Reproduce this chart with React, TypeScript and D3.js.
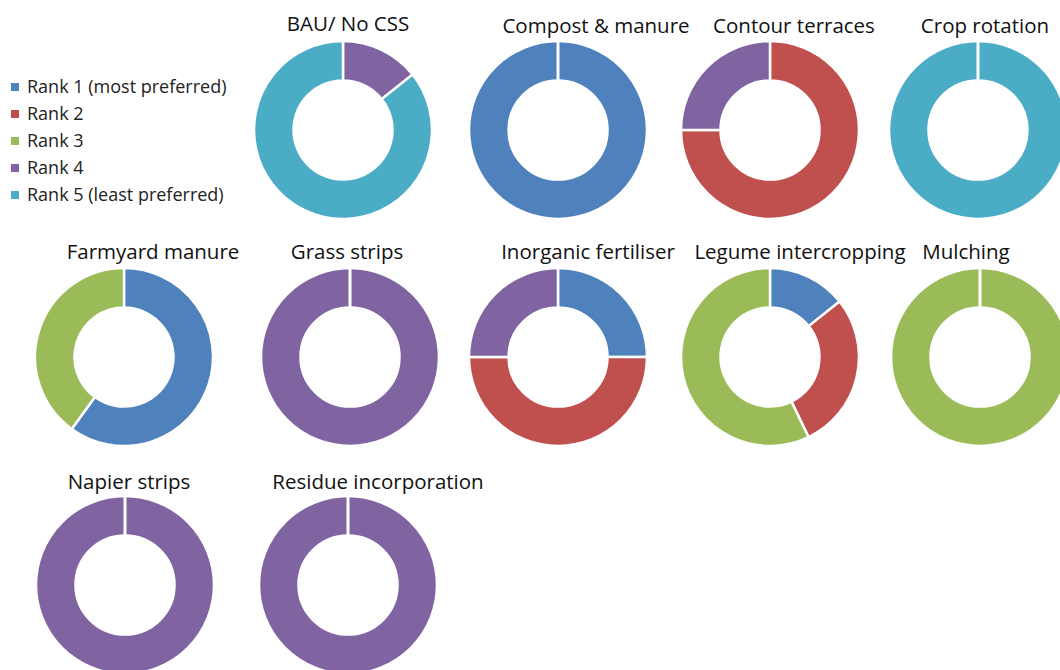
import { arc, pie, scaleOrdinal } from 'd3';

// rank categories and their Excel-style colours
const ranks = ['Rank 1 (most preferred)', 'Rank 2', 'Rank 3', 'Rank 4', 'Rank 5 (least preferred)'];
const rankColors = ['#4F81BD', '#C0504D', '#9BBB59', '#8064A2', '#4BACC6'];

const practices = [
  'BAU/ No CSS',
  'Compost & manure',
  'Contour terraces',
  'Crop rotation',
  'Farmyard manure',
  'Grass strips',
  'Inorganic fertiliser',
  'Legume intercropping',
  'Mulching',
  'Napier strips',
  'Residue incorporation',
];

// number of responses per rank, one entry per practice
const rank1 = [0, 1, 0, 0, 3, 0, 1, 1, 0, 0, 0];
const rank2 = [0, 0, 3, 0, 0, 0, 2, 2, 0, 0, 0];
const rank3 = [0, 0, 0, 0, 2, 0, 0, 4, 1, 0, 0];
const rank4 = [1, 0, 1, 0, 0, 1, 1, 0, 0, 1, 1];
const rank5 = [6, 0, 0, 1, 0, 0, 0, 0, 0, 0, 0];

// layout of the small multiples (donut centre and title centre)
const donutX = [343, 558, 770, 978, 124, 350, 558, 770, 980, 125, 348];
const donutY = [130, 130, 130, 130, 357, 357, 357, 357, 357, 585, 585];
const titleX = [348, 596, 794, 985, 153, 347, 588, 800, 966, 129, 378];
const titleY = [31, 33, 33, 33, 259, 259, 259, 259, 259, 489, 489];

const outerR = 89;
const innerR = 49.5;

interface Slice {
  rank: number;
  value: number;
}

export default function App() {
  const color = scaleOrdinal<number, string>().domain([0, 1, 2, 3, 4]).range(rankColors);
  const pieGen = pie<Slice>().sort(null).value((d) => d.value);
  const arcGen = arc<any>().innerRadius(innerR).outerRadius(outerR);
  const series = [rank1, rank2, rank3, rank4, rank5];

  return (
    <div style={{ position: 'absolute', left: 0, top: 0 }}>
      <svg width={1060} height={670} style={{ display: 'block', background: '#fff' }} fontFamily="'Open Sans', 'Noto Sans', sans-serif">
        <g>
          {ranks.map((r, i) => (
            <g key={r} transform={`translate(11, ${87 + i * 27})`}>
              <rect x={0} y={-4} width={8} height={8} fill={color(i)} />
              <text x={16} y={0} dy="0.35em" fontSize={18} fill="#222">
                {r}
              </text>
            </g>
          ))}
        </g>
        {practices.map((name, p) => {
          const slices: Slice[] = series.map((s, rank) => ({ rank, value: s[p] })).filter((d) => d.value > 0);
          const arcs = pieGen(slices);
          return (
            <g key={name}>
              <text x={titleX[p]} y={titleY[p]} textAnchor="middle" fontSize={20.5} fill="#111">
                {name}
              </text>
              <g transform={`translate(${donutX[p]}, ${donutY[p]})`}>
                {arcs.map((a) => (
                  <path key={a.data.rank} d={arcGen(a) ?? ''} fill={color(a.data.rank)} stroke="#fff" strokeWidth={2.5} />
                ))}
                {arcs.length === 1 ? (
                  <line x1={0} y1={-innerR} x2={0} y2={-outerR - 1} stroke="#fff" strokeWidth={3} />
                ) : null}
              </g>
            </g>
          );
        })}
      </svg>
    </div>
  );
}
